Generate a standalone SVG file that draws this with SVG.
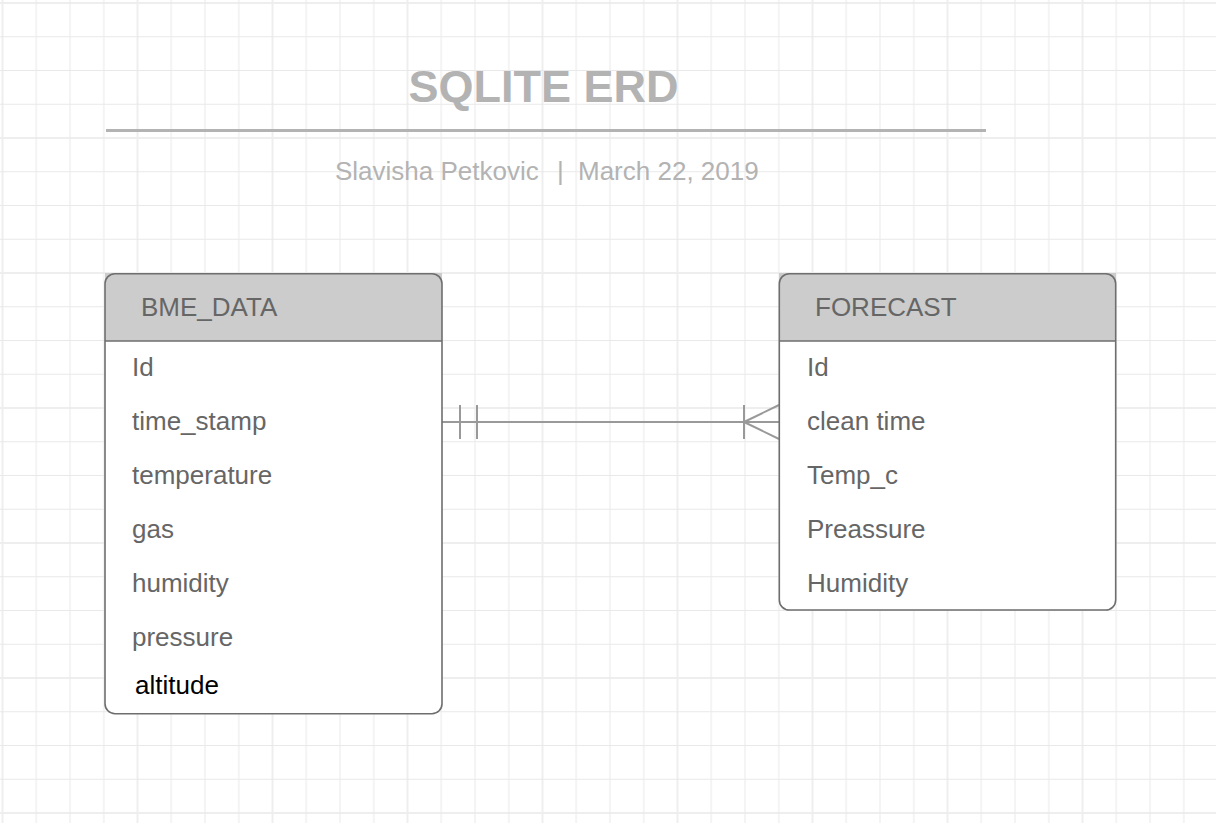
<svg xmlns="http://www.w3.org/2000/svg" width="1216" height="823" viewBox="0 0 1216 823">
  <style>
    .title { font-family: "Liberation Sans", Arial, sans-serif; font-weight: bold; font-size: 45px; fill: #b3b3b3; }
    .sub { font-family: "Liberation Sans", Arial, sans-serif; font-size: 26px; fill: #b3b3b3; }
    .hdr { font-family: "Liberation Sans", Arial, sans-serif; font-size: 26px; fill: #666666; }
    .row { font-family: "Liberation Sans", Arial, sans-serif; font-size: 26px; fill: #666666; }
    .row-dark { font-family: "Liberation Sans", Arial, sans-serif; font-size: 26px; fill: #000000; }
    .box { fill: none; stroke: #6e6e6e; stroke-width: 1.6; }
    .hfill { fill: #cccccc; }
    .conn { stroke: #999999; stroke-width: 2; fill: none; }
  </style>
  <defs>
    <pattern id="grid" patternUnits="userSpaceOnUse" x="1.5" y="2" width="135" height="135">
      <rect x="0" y="0" width="2" height="135" fill="#eeeeee"/>
      <rect x="0" y="0" width="135" height="2" fill="#eeeeee"/>
      <rect x="34.25" y="0" width="1" height="135" fill="#e9e9e9"/>
      <rect x="68" y="0" width="1" height="135" fill="#e9e9e9"/>
      <rect x="101.75" y="0" width="1" height="135" fill="#e9e9e9"/>
      <rect x="0" y="34.25" width="135" height="1" fill="#e9e9e9"/>
      <rect x="0" y="68" width="135" height="1" fill="#e9e9e9"/>
      <rect x="0" y="101.75" width="135" height="1" fill="#e9e9e9"/>
    </pattern>
  </defs>
  <rect x="0" y="0" width="1216" height="823" fill="#ffffff"/>
  <rect x="0" y="0" width="1216" height="823" fill="url(#grid)"/>

  <g id="title">
    <text class="title" x="543.5" y="102" text-anchor="middle">SQLITE ERD</text>
    <line x1="106" y1="130.5" x2="986" y2="130.5" stroke="#b3b3b3" stroke-width="3"/>
    <text class="sub" x="335" y="180">Slavisha Petkovic</text>
    <text class="sub" x="557" y="180">|</text>
    <text class="sub" x="578" y="180">March 22, 2019</text>
  </g>

  <g id="connectors">
    <line class="conn" x1="442" y1="422" x2="779" y2="422" stroke-width="1.6"/>
    <line class="conn" x1="460" y1="405" x2="460" y2="439"/>
    <line class="conn" x1="477" y1="405" x2="477" y2="439"/>
    <line class="conn" x1="744" y1="405" x2="744" y2="439"/>
    <line class="conn" x1="744" y1="422" x2="779" y2="405"/>
    <line class="conn" x1="744" y1="422" x2="779" y2="439"/>
  </g>

  <g id="bme_data">
    <rect x="105" y="341" width="337" height="373" rx="10" fill="#ffffff"/>
    <rect x="105" y="330" width="337" height="20" fill="#ffffff"/>
    <rect class="hfill" x="105" y="273" width="337" height="68"/>
    <rect class="box" x="105" y="273.7" width="337" height="440" rx="10"/>
    <line class="box" x1="105" y1="341" x2="442" y2="341"/>
    <text class="hdr" x="141" y="316">BME_DATA</text>
    <text class="row" x="132" y="376">Id</text>
    <text class="row" x="132" y="430">time_stamp</text>
    <text class="row" x="132" y="484">temperature</text>
    <text class="row" x="132" y="538">gas</text>
    <text class="row" x="132" y="592">humidity</text>
    <text class="row" x="132" y="646">pressure</text>
    <text class="row-dark" x="135" y="693.5">altitude</text>
  </g>

  <g id="forecast">
    <rect x="779" y="341" width="337" height="269" rx="10" fill="#ffffff"/>
    <rect x="779" y="330" width="337" height="20" fill="#ffffff"/>
    <rect class="hfill" x="779" y="273" width="337" height="68"/>
    <rect class="box" x="779.3" y="273.7" width="336.4" height="336.3" rx="10"/>
    <line class="box" x1="779" y1="341" x2="1116" y2="341"/>
    <text class="hdr" x="815" y="316">FORECAST</text>
    <text class="row" x="807" y="376">Id</text>
    <text class="row" x="807" y="430">clean time</text>
    <text class="row" x="807" y="484">Temp_c</text>
    <text class="row" x="807" y="538">Preassure</text>
    <text class="row" x="807" y="592">Humidity</text>
  </g>
</svg>
